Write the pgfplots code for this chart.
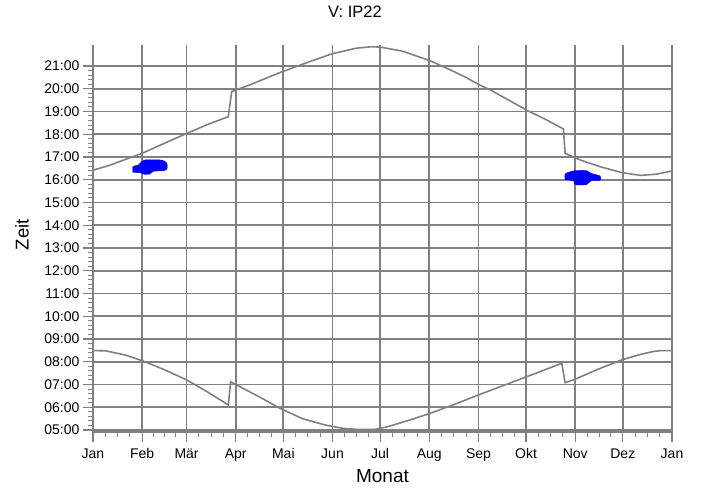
\documentclass[border=0pt]{standalone}
\usepackage{fontspec}
\setmainfont{Liberation Sans}
\usepackage{pgfplots}
\pgfplotsset{compat=1.18}
\definecolor{gr}{RGB}{128,128,128}
\definecolor{bl}{RGB}{0,0,255}
\begin{document}
\begin{tikzpicture}
\begin{axis}[
  scale only axis, width=579pt, height=387pt,
  at={(0pt,0pt)}, anchor=south west,
  xmin=0, xmax=365, ymin=4.912, ymax=21.92,
  axis x line=bottom, axis y line=left,
  x axis line style={gr, line width=3pt, -},
  y axis line style={gr, line width=1.5pt, -},
  xtick={0,31,59,90,120,151,181,212,243,273,304,334,365},
  xticklabels={Jan,Feb,Mär,Apr,Mai,Jun,Jul,Aug,Sep,Okt,Nov,Dez,Jan},
  minor xtick={7.75,15.5,23.25,38,45,52,66.75,74.5,82.25,97.5,105,112.5,127.75,135.5,143.25,158.5,166,173.5,188.75,196.5,204.25,219.75,227.5,235.25,250.5,258,265.5,280.75,288.5,296.25,311.5,319,326.5,341.75,349.5,357.25},
  ytick={5,6,7,8,9,10,11,12,13,14,15,16,17,18,19,20,21},
  yticklabels={05:00,06:00,07:00,08:00,09:00,10:00,11:00,12:00,13:00,14:00,15:00,16:00,17:00,18:00,19:00,20:00,21:00},
  minor y tick num=4,
  tick align=outside,
  major tick length=10pt, minor tick length=5pt,
  tick style={gr, line width=1.2pt},
  minor tick style={gr, line width=1pt},
  grid=major,
  major grid style={gr, line width=1.8pt},
  tick label style={font=\fontsize{14}{16}\selectfont, black},
  xticklabel style={yshift=-3pt},
  title={V: IP22},
  title style={at={(0.4525,1.07)}, anchor=center, font=\fontsize{16.5}{19}\selectfont},
  xlabel={Monat},
  xlabel style={at={(0.5,-0.114)}, anchor=center, font=\fontsize{19}{22}\selectfont},
  ylabel={Zeit},
  ylabel style={at={(-0.1226,0.51)}, anchor=center, font=\fontsize{18.5}{22}\selectfont},
]
% shadow flicker areas
\addplot[draw=bl, fill=bl, smooth, tension=0.4] coordinates {
 (25.2,16.32) (25.2,16.58) (28.5,16.64) (30.5,16.78) (33,16.87) (42,16.87) (45,16.82) (46.7,16.7) (46.7,16.5) (45,16.4) (38,16.37) (36,16.25) (32,16.24) (30.5,16.3) (25.2,16.32)
} -- cycle;
\addplot[draw=bl, fill=bl, smooth, tension=0.4] coordinates {
 (297.6,16.0) (297.6,16.25) (300,16.33) (304,16.4) (311,16.4) (314,16.28) (319.7,16.16) (319.7,15.98) (314,15.95) (311,15.78) (304,15.78) (303,15.95) (297.6,16.0)
} -- cycle;
% sunset
\addplot[gr, line width=1.6pt] coordinates {
 (0,16.42) (10,16.62) (20,16.88) (31,17.16) (45,17.6) (59.3,18.04) (72,18.42) (85.3,18.77)
 (87.4,19.87) (100,20.2) (117.9,20.71) (135,21.15) (150.5,21.53) (166,21.78) (175,21.84) (181,21.83)
 (195,21.65) (212.5,21.23) (223,20.90) (235,20.50) (243.6,20.165) (250.3,19.95) (262,19.5)
 (273.8,19.04) (285,18.66) (294.5,18.31) (296.6,18.22)
 (297.6,17.16) (307,16.87) (319.7,16.57) (333.4,16.31) (345,16.19) (355,16.24) (365,16.38)
};
% sunrise
\addplot[gr, line width=1.6pt] coordinates {
 (0,8.49) (8,8.48) (20,8.30) (30.9,8.05) (45,7.65) (59.1,7.20) (72,6.68) (85.3,6.10)
 (86.8,7.12) (90.5,6.98) (105,6.45) (117.9,5.95) (132,5.5) (146.3,5.22) (157.8,5.07)
 (168,5.02) (177.8,5.03) (185,5.13) (197,5.38) (212.5,5.73) (228,6.13) (243,6.54)
 (256.6,6.90) (273.4,7.34) (285,7.65) (295.5,7.93)
 (297.6,7.08) (303.9,7.23) (318,7.66) (333.3,8.08) (345,8.32) (353.3,8.45) (358,8.49) (365,8.49)
};
\end{axis}
\path[use as bounding box] (-93pt,-57pt) rectangle (608pt,432pt);
\end{tikzpicture}
\end{document}
